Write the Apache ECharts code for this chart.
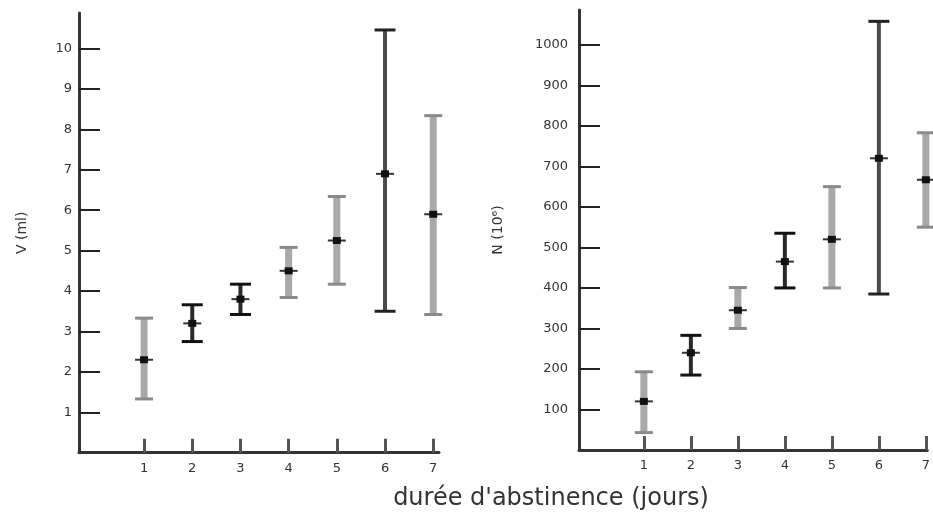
<!DOCTYPE html>
<html>
<head>
<meta charset="utf-8">
<script src="https://cdn.jsdelivr.net/npm/echarts@6/dist/echarts.min.js"></script>
<style>
html,body{margin:0;padding:0;background:#fff;}
#chart{width:933px;height:515px;}
</style>
</head>
<body>
<div id="chart"></div>
<script>
// ---- data ----
const days = [1, 2, 3, 4, 5, 6, 7];
const volMean = [2.3, 3.2, 3.8, 4.5, 5.25, 6.9, 5.9];
const volLow  = [1.33, 2.75, 3.42, 3.84, 4.17, 3.5, 3.42];
const volHigh = [3.33, 3.66, 4.17, 5.08, 6.34, 10.46, 8.34];
const cntMean = [120, 240, 345, 465, 520, 720, 667];
const cntLow  = [43, 185, 300, 400, 400, 385, 550];
const cntHigh = [193, 283, 401, 535, 650, 1058, 783];
const xTicks = [1, 2, 3, 4, 5, 6, 7];
const volTicks = [1, 2, 3, 4, 5, 6, 7, 8, 9, 10];
const cntTicks = [100, 200, 300, 400, 500, 600, 700, 800, 900, 1000];
const volName = 'V (ml)';
const cntName = 'N (10\u2076)';
const xTitle = "durée d'abstinence (jours)";

// ---- styles (per bar shade) ----
const volShade = ['g', 'k', 'k', 'g', 'g', 'd', 'g'];
const cntShade = ['g', 'k', 'g', 'k', 'g', 'd', 'g'];
const shadeStyle = {
  g: { stem: '#a9a9a9', w: 7, cap: '#8a8a8a', capW: 18 },
  k: { stem: '#2a2a2a', w: 4, cap: '#111', capW: 21 },
  d: { stem: '#4a4a4a', w: 4, cap: '#222', capW: 21 }
};

function makeRender(shades) {
  return function (params, api) {
    const i = params.dataIndex;
    const x = api.value(0);
    const lo = api.coord([x, api.value(1)]);
    const hi = api.coord([x, api.value(2)]);
    const mid = api.coord([x, api.value(3)]);
    const s = shadeStyle[shades[i]];
    const cx = lo[0];
    return {
      type: 'group',
      children: [
        { type: 'line', shape: { x1: cx, y1: hi[1], x2: cx, y2: lo[1] },
          style: { stroke: s.stem, lineWidth: s.w } },
        { type: 'line', shape: { x1: cx - s.capW / 2, y1: hi[1], x2: cx + s.capW / 2, y2: hi[1] },
          style: { stroke: s.cap, lineWidth: 3 } },
        { type: 'line', shape: { x1: cx - s.capW / 2, y1: lo[1], x2: cx + s.capW / 2, y2: lo[1] },
          style: { stroke: s.cap, lineWidth: 3 } },
        { type: 'line', shape: { x1: cx - 9, y1: mid[1], x2: cx + 9, y2: mid[1] },
          style: { stroke: '#333', lineWidth: 2 } },
        { type: 'rect', shape: { x: cx - 4, y: mid[1] - 3.5, width: 8, height: 7 },
          style: { fill: '#111' } }
      ]
    };
  };
}

const axisColor = '#333';
const font = 'DejaVu Sans';
const plain = v => String(v);

function xAxisCfg(gridIndex, min, max) {
  return {
    type: 'value', gridIndex, min, max,
    axisLine: { show: true, onZero: false, lineStyle: { color: axisColor, width: 3 } },
    axisTick: { show: true, inside: true, length: 14, customValues: xTicks,
      lineStyle: { color: '#555', width: 3 } },
    axisLabel: { show: true, customValues: xTicks, margin: 9, formatter: plain,
      color: '#333', fontSize: 13, fontFamily: font },
    splitLine: { show: false }
  };
}
function yAxisCfg(gridIndex, max, ticks, name, gap, lblMargin) {
  return {
    type: 'value', gridIndex, min: 0, max,
    name, nameLocation: 'middle', nameRotate: 90, nameGap: gap,
    nameTextStyle: { color: '#333', fontSize: 14, fontFamily: font },
    axisLine: { show: true, onZero: false, lineStyle: { color: axisColor, width: 3 } },
    axisTick: { show: true, inside: true, length: 21, customValues: ticks,
      lineStyle: { color: '#222', width: 2 } },
    axisLabel: { show: true, customValues: ticks, margin: lblMargin, formatter: plain,
      color: '#333', fontSize: 13, fontFamily: font },
    splitLine: { show: false }
  };
}

const chart = echarts.init(document.getElementById('chart'), null, { renderer: 'canvas' });
chart.setOption({
  backgroundColor: '#fff',
  animation: false,
  grid: [
    { left: 79, right: 494, top: 13, bottom: 62.3 },
    { left: 579, right: 0, top: 10, bottom: 65 }
  ],
  xAxis: [ xAxisCfg(0, -0.35, 7.12), xAxisCfg(1, -0.38, 7.03) ],
  yAxis: [
    yAxisCfg(0, 10.88, volTicks, volName, 50, 7),
    yAxisCfg(1, 1086, cntTicks, cntName, 74, 11)
  ],
  graphic: [
    { type: 'text', x: 551, y: 499,
      style: { text: xTitle, align: 'center', verticalAlign: 'middle',
        fill: '#333', fontSize: 24, fontFamily: font } }
  ],
  series: [
    { type: 'custom', xAxisIndex: 0, yAxisIndex: 0,
      renderItem: makeRender(volShade),
      encode: { x: 0, y: [1, 2, 3] },
      data: days.map((d, i) => [d, volLow[i], volHigh[i], volMean[i]]) },
    { type: 'custom', xAxisIndex: 1, yAxisIndex: 1,
      renderItem: makeRender(cntShade),
      encode: { x: 0, y: [1, 2, 3] },
      data: days.map((d, i) => [d, cntLow[i], cntHigh[i], cntMean[i]]) }
  ]
});
</script>
</body>
</html>
